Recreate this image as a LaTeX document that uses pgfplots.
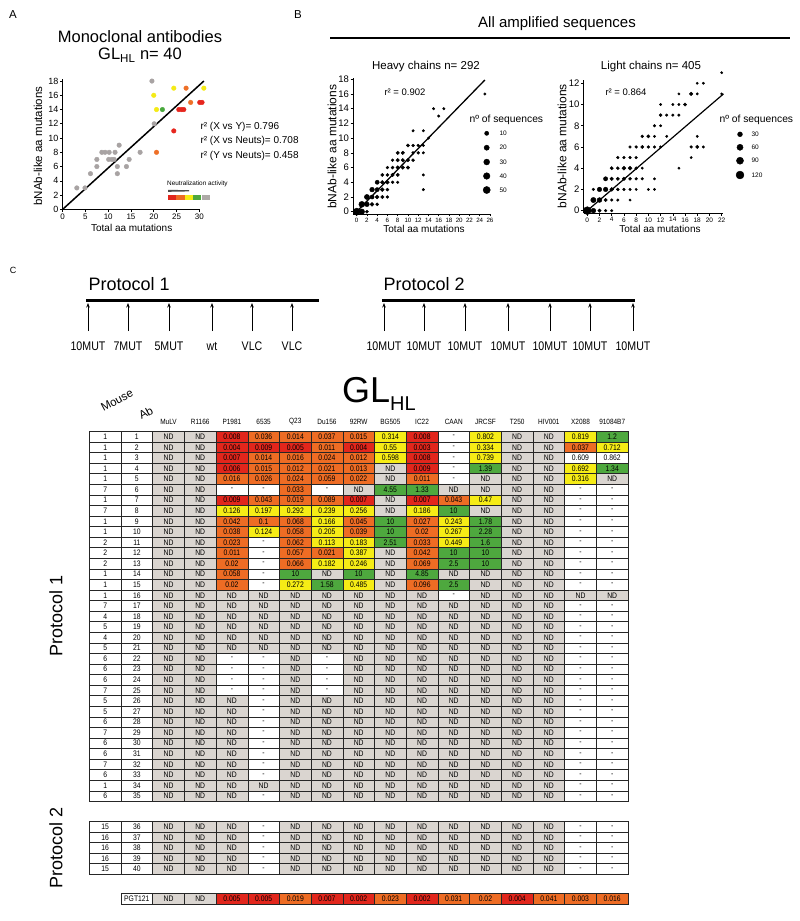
\documentclass[border=0pt]{standalone}
\usepackage{pgfplots}
\pgfplotsset{compat=1.18}
\usepackage{pgfplotstable}
\usetikzlibrary{arrows.meta}
\usepackage{fontspec}
\setmainfont{Liberation Sans}
\newfontfamily\nf[FakeStretch=0.85]{Liberation Sans}

\definecolor{cred}{RGB}{226,38,28}
\definecolor{corange}{RGB}{238,108,36}
\definecolor{cyellow}{RGB}{246,236,22}
\definecolor{cgreen}{RGB}{78,168,62}
\definecolor{cgray}{RGB}{218,213,208}
\definecolor{pgray}{RGB}{168,163,163}
\definecolor{pred}{RGB}{230,38,30}
\definecolor{porange}{RGB}{238,112,40}
\definecolor{pyellow}{RGB}{244,234,22}
\definecolor{pgreen}{RGB}{72,168,60}

\pgfdeclareplotmark{cell}{%
  \pgfpathrectangle{\pgfpoint{-15.845pt}{-5.285pt}}{\pgfpoint{31.69pt}{10.57pt}}%
  \pgfusepathqfillstroke}

\def\cellfont{\fontsize{8}{8.5}\nf}
\def\rowy{(\thisrow{r}<35.5 ? 431.4+(\thisrow{r}-0.5)*10.57 : (\thisrow{r}<40.5 ? 821.7+(\thisrow{r}-35.5)*10.46 : 899))}

% Panel A: monoclonal antibodies (x = total aa mutations, y = bNAb-like aa mutations, c = neutralization class)
\pgfplotstableread{
x y c
3.1 3 n
4.9 3 n
6.1 5 n
7.5 6 n
7.5 7 n
8.6 8 n
9.3 8 n
10.2 8 n
10.1 7 n
10.8 7 n
11.3 7 n
11.5 8 n
12 6 n
12 5 n
12.4 9 n
14 6 n
14.6 7 n
17 8 n
19.6 18 n
20.1 12 n
20 16 y
20.6 14 y
21.9 14 g
20.6 8 o
24.4 17 y
27.1 17 o
31 17 y
28.1 15 o
30.1 15 r
30.6 15 r
25.5 14 r
26.1 14 r
26.6 14 r
24.4 11 r
}\mabs

% Panel B heavy chains (x, y, number of sequences)
\pgfplotstableread{
x y n
0 0 50
1 0 25
2 0 3
1 1 30
2 1 15
3 1 8
4 1 3
2 2 20
3 2 10
4 2 8
5 2 5
6 2 2
3 3 15
4 3 10
5 3 8
6 3 3
13 3 1
4 4 10
5 4 6
6 4 8
7 4 2
8 4 1
5 5 4
6 5 3
7 5 5
8 5 5
13 5 1
6 6 2
7 6 3
8 6 6
9 6 6
10 6 5
7 7 2
8 7 5
9 7 5
10 7 5
11 7 3
8 8 5
9 8 5
11 8 2
12 8 2
13 8 1
10 9 4
11 9 2
12 9 2
13 9 1
14 10 1
11 11 1
13 11 1
16 13 1
15 14 1
17 14 1
25 16 1
}\heavy

% Panel B light chains
\pgfplotstableread{
x y n
0 0 120
1 0 30
2 0 10
3 0 3
4 0 2
1 1 40
2 1 30
3 1 8
4 1 3
5 1 2
7 1 1
1 2 3
2 2 25
3 2 25
4 2 15
5 2 5
6 2 3
7 2 2
8 2 1
10 2 1
11 2 1
3 3 20
4 3 10
5 3 8
6 3 10
7 3 5
8 3 3
9 3 2
11 3 1
4 4 8
5 4 5
6 4 15
7 4 15
8 4 5
9 4 1
15 4 1
5 5 3
6 5 3
7 5 3
8 5 3
17 5 1
7 6 2
8 6 3
9 6 8
10 6 3
11 6 2
12 6 2
17 6 3
18 6 8
19 6 2
9 7 3
10 7 8
11 7 2
13 7 1
18 7 1
11 8 2
12 8 1
12 9 5
13 9 2
14 9 2
15 9 2
12 10 1
14 10 1
15 10 1
16 10 8
15 11 1
17 11 10
18 11 1
22 11 1
18 12 1
19 12 1
22 13 1
}\light

% Panel C table: row, mouse, Ab, 15 labels, 15 colour classes
\pgfplotstableread{
r m a L1 L2 L3 L4 L5 L6 L7 L8 L9 L10 L11 L12 L13 L14 L15 K1 K2 K3 K4 K5 K6 K7 K8 K9 K10 K11 K12 K13 K14 K15
1 1 1 ND ND 0.008 0.036 0.014 0.037 0.015 0.314 0.008 - 0.802 ND ND 0.819 1.2 n n r o o o o y r w y n n y g
2 1 2 ND ND 0.004 0.009 0.005 0.011 0.004 0.55 0.003 - 0.334 ND ND 0.037 0.712 n n r r r o r y r w y n n o y
3 1 3 ND ND 0.007 0.014 0.016 0.024 0.012 0.598 0.008 - 0.739 ND ND 0.609 0.862 n n r o o o o y r w y n n w w
4 1 4 ND ND 0.006 0.015 0.012 0.021 0.013 ND 0.009 - 1.39 ND ND 0.692 1.34 n n r o o o o n r w g n n y g
5 1 5 ND ND 0.016 0.026 0.024 0.059 0.022 ND 0.011 - ND ND ND 0.316 ND n n o o o o o n o w n n n y n
6 7 6 ND ND - - 0.033 - ND 4.55 1.33 ND ND ND ND - - n n w w o w n g g n n n n w w
7 1 7 ND ND 0.009 0.043 0.019 0.089 0.007 ND 0.007 0.043 0.47 ND ND - - n n r o o o r n r o y n n w w
8 7 8 ND ND 0.126 0.197 0.292 0.239 0.256 ND 0.186 10 ND ND ND - - n n y y y y y n y g n n n w w
9 1 9 ND ND 0.042 0.1 0.068 0.166 0.045 10 0.027 0.243 1.78 ND ND - - n n o o o y o g o y g n n w w
10 1 10 ND ND 0.038 0.124 0.058 0.205 0.039 10 0.02 0.267 2.28 ND ND - - n n o y o y o g o y g n n w w
11 2 11 ND ND 0.023 - 0.062 0.113 0.183 2.51 0.033 0.449 1.6 ND ND - - n n o w o y y g o y g n n w w
12 2 12 ND ND 0.011 - 0.057 0.021 0.387 ND 0.042 10 10 ND ND - - n n o w o o y n o g g n n w w
13 2 13 ND ND 0.02 - 0.066 0.182 0.246 ND 0.069 2.5 10 ND ND - - n n o w o y y n o g g n n w w
14 1 14 ND ND 0.058 - 10 ND 10 ND 4.85 ND ND ND ND - - n n o w g n g n g n n n n w w
15 1 15 ND ND 0.02 - 0.272 1.58 0.485 ND 0.096 2.5 ND ND ND - - n n o w y g y n o g n n n w w
16 1 16 ND ND ND ND ND ND ND ND ND - ND ND ND ND ND n n n n n n n n n w n n n n n
17 7 17 ND ND ND ND ND ND ND ND ND ND ND ND ND - - n n n n n n n n n n n n n w w
18 4 18 ND ND ND ND ND ND ND ND ND ND ND ND ND - - n n n n n n n n n n n n n w w
19 5 19 ND ND ND ND ND ND ND ND ND ND ND ND ND - - n n n n n n n n n n n n n w w
20 4 20 ND ND ND ND ND ND ND ND ND ND ND ND ND - - n n n n n n n n n n n n n w w
21 5 21 ND ND ND ND ND ND ND ND ND ND ND ND ND - - n n n n n n n n n n n n n w w
22 6 22 ND ND - - ND - ND ND ND ND ND ND ND - - n n w w n w n n n n n n n w w
23 6 23 ND ND - - ND - ND ND ND ND ND ND ND - - n n w w n w n n n n n n n w w
24 6 24 ND ND - - ND - ND ND ND ND ND ND ND - - n n w w n w n n n n n n n w w
25 7 25 ND ND - - ND - ND ND ND ND ND ND ND - - n n w w n w n n n n n n n w w
26 5 26 ND ND ND - ND ND ND ND ND ND ND ND ND - - n n n w n n n n n n n n n w w
27 5 27 ND ND ND - ND ND ND ND ND ND ND ND ND - - n n n w n n n n n n n n n w w
28 6 28 ND ND ND - ND ND ND ND ND ND ND ND ND - - n n n w n n n n n n n n n w w
29 7 29 ND ND ND - ND ND ND ND ND ND ND ND ND - - n n n w n n n n n n n n n w w
30 6 30 ND ND ND - ND ND ND ND ND ND ND ND ND - - n n n w n n n n n n n n n w w
31 6 31 ND ND ND - ND ND ND ND ND ND ND ND ND - - n n n w n n n n n n n n n w w
32 7 32 ND ND ND - ND ND ND ND ND ND ND ND ND - - n n n w n n n n n n n n n w w
33 6 33 ND ND ND - ND ND ND ND ND ND ND ND ND - - n n n w n n n n n n n n n w w
34 1 34 ND ND ND ND ND ND ND ND ND ND ND ND ND - - n n n n n n n n n n n n n w w
35 6 35 ND ND ND - ND ND ND ND ND ND ND ND ND - - n n n w n n n n n n n n n w w
36 15 36 ND ND ND - ND ND ND ND ND ND ND ND ND - - n n n w n n n n n n n n n w w
37 16 37 ND ND ND - ND ND ND ND ND ND ND ND ND - - n n n w n n n n n n n n n w w
38 16 38 ND ND ND - ND ND ND ND ND ND ND ND ND - - n n n w n n n n n n n n n w w
39 16 39 ND ND ND - ND ND ND ND ND ND ND ND ND - - n n n w n n n n n n n n n w w
40 15 40 ND ND ND - ND ND ND ND ND ND ND ND ND - - n n n w n n n n n n n n n w w
41 x PGT121 ND ND 0.005 0.005 0.019 0.007 0.002 0.023 0.002 0.031 0.02 0.004 0.041 0.003 0.016 n n r r o r r o r o o r o o o
}\neut

\pgfplotsset{
  cellbase/.style={only marks, mark=cell, line width=0.5pt},
  cellclasses/.style={scatter, scatter src=explicit symbolic,
    scatter/classes={
      r={draw=black!85, fill=cred},
      o={draw=black!85, fill=corange},
      y={draw=black!85, fill=cyellow},
      g={draw=black!85, fill=cgreen},
      n={draw=black!85, fill=cgray},
      w={draw=black!85, fill=white}}},
  celltext/.style={only marks, mark=none, point meta=explicit symbolic, nodes near coords,
    every node near coord/.append style={anchor=center, text=black, inner sep=0pt, font=\cellfont}},
  sc/.style={scale only axis, axis lines=left, axis line style={-, line width=0.8pt},
    tick align=outside, major tick length=2.5pt, tick style={black, line width=0.6pt},
    enlargelimits=false, clip=false, /pgf/number format/assume math mode=true},
}

\begin{document}
\begin{tikzpicture}
\useasboundingbox (0pt,0pt) rectangle (800pt,-921pt);

% ---------------- layout axis (pixel coordinates) ----------------
\begin{axis}[at={(0pt,0pt)}, anchor=north west, scale only axis, width=800pt, height=921pt,
  xmin=0, xmax=800, ymin=0, ymax=921, y dir=reverse, hide axis, clip=false]

% panel letters
\node[font=\fontsize{11.5}{12}\selectfont] at (13,15) {A};
\node[font=\fontsize{11.5}{12}\selectfont] at (298,15) {B};
\node[font=\fontsize{9}{10}\selectfont] at (13,270) {C};

% panel A texts
\node[font=\fontsize{16.5}{17}\selectfont] at (140,37) {Monoclonal antibodies};
\node[font=\fontsize{16.5}{17}\selectfont] at (140,55) {GL\textsubscript{HL} n= 40};
\node[anchor=west, font=\fontsize{10}{11}\selectfont] at (197,126.7) {r² (X vs Y)= 0.796};
\node[anchor=west, font=\fontsize{10}{11}\selectfont] at (197,141.3) {r² (X vs Neuts)= 0.708};
\node[anchor=west, font=\fontsize{10}{11}\selectfont] at (197,155.7) {r² (Y vs Neuts)= 0.458};
\node[font=\fontsize{10}{11}\selectfont] at (131.7,228) {Total aa mutations};
\node[rotate=90, font=\fontsize{11.5}{12}\selectfont] at (38,146) {bNAb-like aa mutations};
\node[anchor=west, inner sep=0pt, font=\fontsize{6.4}{7}\selectfont] at (167,184) {Neutralization activity};
\fill[black!70] (168,189.8) -- (189,190.2) -- (189,191.4) -- (168,191.8) -- cycle;
\fill[cred] (168,195) rectangle (176.2,200);
\fill[corange] (176.4,195) rectangle (184.6,200);
\fill[cyellow] (184.8,195) rectangle (193,200);
\fill[cgreen] (193.2,195) rectangle (201.4,200);
\fill[cgray!80!black] (201.6,195) rectangle (209.8,200);

% panel B texts
\node[font=\fontsize{15}{16}\selectfont] at (557,24) {All amplified sequences};
\draw[line width=1.2pt] (330,38) -- (790,38);
\node[font=\fontsize{11.5}{12}\selectfont] at (426,67) {Heavy chains n= 292};
\node[anchor=west, font=\fontsize{9.5}{10}\selectfont] at (381,92) {r² = 0.902};
\node[font=\fontsize{10}{11}\selectfont] at (424,229) {Total aa mutations};
\node[rotate=90, font=\fontsize{12}{13}\selectfont] at (332,146.7) {bNAb-like aa mutations};
\node[anchor=west, font=\fontsize{10.3}{11}\selectfont] at (466,120) {nº of sequences};
\node[font=\fontsize{11.5}{12}\selectfont] at (651,67) {Light chains n= 405};
\node[anchor=west, font=\fontsize{9.5}{10}\selectfont] at (602,92) {r² = 0.864};
\node[font=\fontsize{10}{11}\selectfont] at (660,229) {Total aa mutations};
\node[rotate=90, font=\fontsize{12}{13}\selectfont] at (562,146) {bNAb-like aa mutations};
\node[anchor=west, font=\fontsize{10.3}{11}\selectfont] at (716,120) {nº of sequences};

% bubble-size legends
\addplot[only marks, mark=*, black, visualization depends on={0.38*sqrt(\thisrow{n})+0.9 \as \msize},
  scatter, scatter/use mapped color={draw=black, fill=black},
  scatter/@pre marker code/.append style={/tikz/mark size=\msize}]
  table[x=x, y=y] {
x y n
486.7 133.3 10
486.7 147.7 20
486.7 162 30
486.7 176 40
486.7 190 50
};
\addplot[only marks, mark=*, black, visualization depends on={0.28*sqrt(\thisrow{n})+0.9 \as \msize},
  scatter, scatter/use mapped color={draw=black, fill=black},
  scatter/@pre marker code/.append style={/tikz/mark size=\msize}]
  table[x=x, y=y] {
x y n
740 134.3 30
740 147.3 60
740 160.7 90
740 175 120
};
\foreach \yy/\tt in {133.3/10,147.7/20,162/30,176/40,190/50}{
  \edef\tmp{\noexpand\node[anchor=west, font=\noexpand\fontsize{6.5}{7}\noexpand\selectfont] at (496,\yy) {\tt};}\tmp}
\foreach \yy/\tt in {134.3/30,147.3/60,160.7/90,175/120}{
  \edef\tmp{\noexpand\node[anchor=west, font=\noexpand\fontsize{6.5}{7}\noexpand\selectfont] at (748,\yy) {\tt};}\tmp}

% panel C protocols
\node[anchor=west, font=\fontsize{18}{19}\selectfont] at (85,284) {Protocol 1};
\node[anchor=west, font=\fontsize{18}{19}\selectfont] at (380,284) {Protocol 2};
\draw[line width=2.2pt] (86,300.5) -- (319,300.5);
\draw[line width=2.2pt] (382,300.5) -- (635,300.5);
\foreach \xx/\tt in {88/10MUT,128/7MUT,169/5MUT,212/wt,252/VLC,292/VLC}{
  \edef\tmp{\noexpand\draw[-{Stealth[length=4.5pt,width=3.5pt]}, line width=0.8pt] (\xx,331) -- (\xx,303);
  \noexpand\node[font=\noexpand\fontsize{12.5}{13}\noexpand\nf] at (\xx,346) {\tt};}\tmp}
\foreach \xx in {384,424,465,508,550,590,633}{
  \edef\tmp{\noexpand\draw[-{Stealth[length=4.5pt,width=3.5pt]}, line width=0.8pt] (\xx,331) -- (\xx,303);
  \noexpand\node[font=\noexpand\fontsize{12.5}{13}\noexpand\nf] at (\xx,346) {10MUT};}\tmp}

% GL_HL title and headers
\node[anchor=base west, inner sep=0pt] at (342,402) {\fontsize{36}{36}\selectfont GL\raisebox{-8pt}{\fontsize{20}{20}\selectfont HL}};
\node[rotate=28, inner sep=0pt, font=\fontsize{11.5}{12}\selectfont] at (117,400) {Mouse};
\node[rotate=28, inner sep=0pt, font=\fontsize{11.5}{12}\selectfont] at (146,413) {Ab};
\foreach \xx/\tt in {168.53/MuLV,200.22/R1166,231.91/P1981,263.60/6535,295.29/Q23,326.98/Du156,358.67/92RW,390.36/BG505,422.05/IC22,453.74/CAAN,485.43/JRCSF,517.12/T250,548.81/HIV001,580.50/X2088,612.19/91084B7}{
  \edef\tmp{\noexpand\node[font=\noexpand\fontsize{7.6}{8}\noexpand\nf] at (\xx,421.5) {\tt};}\tmp}
\node[rotate=90, font=\fontsize{18}{19}\selectfont] at (56,616) {Protocol 1};
\node[rotate=90, font=\fontsize{18}{19}\selectfont] at (56,848) {Protocol 2};

% table: mouse and Ab columns
\addplot[only marks, mark=cell, line width=0.5pt, mark options={draw=black!85, fill=white},
  point meta=explicit symbolic, nodes near coords,
  every node near coord/.append style={anchor=center, text=black, inner sep=0pt, font=\cellfont},
  restrict expr to domain={\thisrow{r}}{0:40.5}]
  table[x expr=105.15, y expr={\rowy}, meta=m] {\neut};
\addplot[only marks, mark=cell, line width=0.5pt, mark options={draw=black!85, fill=white},
  point meta=explicit symbolic, nodes near coords,
  every node near coord/.append style={anchor=center, text=black, inner sep=0pt, font=\cellfont}]
  table[x expr=136.84, y expr={\rowy}, meta=a] {\neut};
% table: neutralization values
\pgfplotsinvokeforeach{1,...,15}{
  \addplot[cellbase, cellclasses] table[x expr={89.3+(#1+1.5)*31.69}, y expr={\rowy}, meta=K#1] {\neut};
  \addplot[celltext] table[x expr={89.3+(#1+1.5)*31.69}, y expr={\rowy}, meta=L#1] {\neut};
}
\end{axis}

% ---------------- panel A ----------------
\begin{axis}[sc, at={(62.7pt,-209.3pt)}, anchor=south west, width=137.5pt, height=130.4pt,
  xmin=0, xmax=30.2, ymin=0, ymax=18.3, xtick={0,5,...,30}, ytick={0,2,...,18},
  xticklabel style={font=\fontsize{8}{8}\selectfont, inner sep=1.5pt},
  yticklabel style={font=\fontsize{9}{9}\selectfont, inner sep=1.5pt}]
\addplot[scatter, only marks, mark=*, mark size=2.3pt, scatter src=explicit symbolic,
  scatter/classes={
    n={draw=pgray, fill=pgray},
    r={draw=pred, fill=pred},
    o={draw=porange, fill=porange},
    y={draw=pyellow, fill=pyellow},
    g={draw=pgreen, fill=pgreen}}]
  table[x=x, y=y, meta=c] {\mabs};
\addplot[black, line width=1.5pt, mark=none] coordinates {(0,0) (31,18)};
\end{axis}

% ---------------- panel B heavy ----------------
\begin{axis}[sc, at={(353.1pt,-213.9pt)}, anchor=south west, width=137.9pt, height=136.1pt,
  xmin=-0.7, xmax=26.2, ymin=-0.3, ymax=18.2, xtick={0,2,...,26}, ytick={0,2,...,18},
  xticklabel style={font=\fontsize{6.2}{6.5}\selectfont, inner sep=1.5pt},
  yticklabel style={font=\fontsize{9.5}{10}\selectfont, inner sep=1.5pt}]
\addplot[only marks, mark=*, black, visualization depends on={0.38*sqrt(\thisrow{n})+0.9 \as \msize},
  scatter, scatter/use mapped color={draw=black, fill=black},
  scatter/@pre marker code/.append style={/tikz/mark size=\msize}]
  table[x=x, y=y] {\heavy};
\addplot[black, line width=1.3pt, mark=none] coordinates {(0,0) (25,17.9)};
\end{axis}

% ---------------- panel B light ----------------
\begin{axis}[sc, at={(583.6pt,-213.3pt)}, anchor=south west, width=139.3pt, height=133.2pt,
  xmin=-0.6, xmax=22.2, ymin=-0.25, ymax=12.3, xtick={0,2,...,22}, ytick={0,2,...,12},
  xticklabel style={font=\fontsize{6.5}{7}\selectfont, inner sep=1.5pt},
  yticklabel style={font=\fontsize{9.5}{10}\selectfont, inner sep=1.5pt}]
\addplot[only marks, mark=*, black, visualization depends on={0.28*sqrt(\thisrow{n})+0.9 \as \msize},
  scatter, scatter/use mapped color={draw=black, fill=black},
  scatter/@pre marker code/.append style={/tikz/mark size=\msize}]
  table[x=x, y=y] {\light};
\addplot[black, line width=1.2pt, mark=none] coordinates {(0,0) (22.3,11)};
\end{axis}
\end{tikzpicture}
\end{document}
